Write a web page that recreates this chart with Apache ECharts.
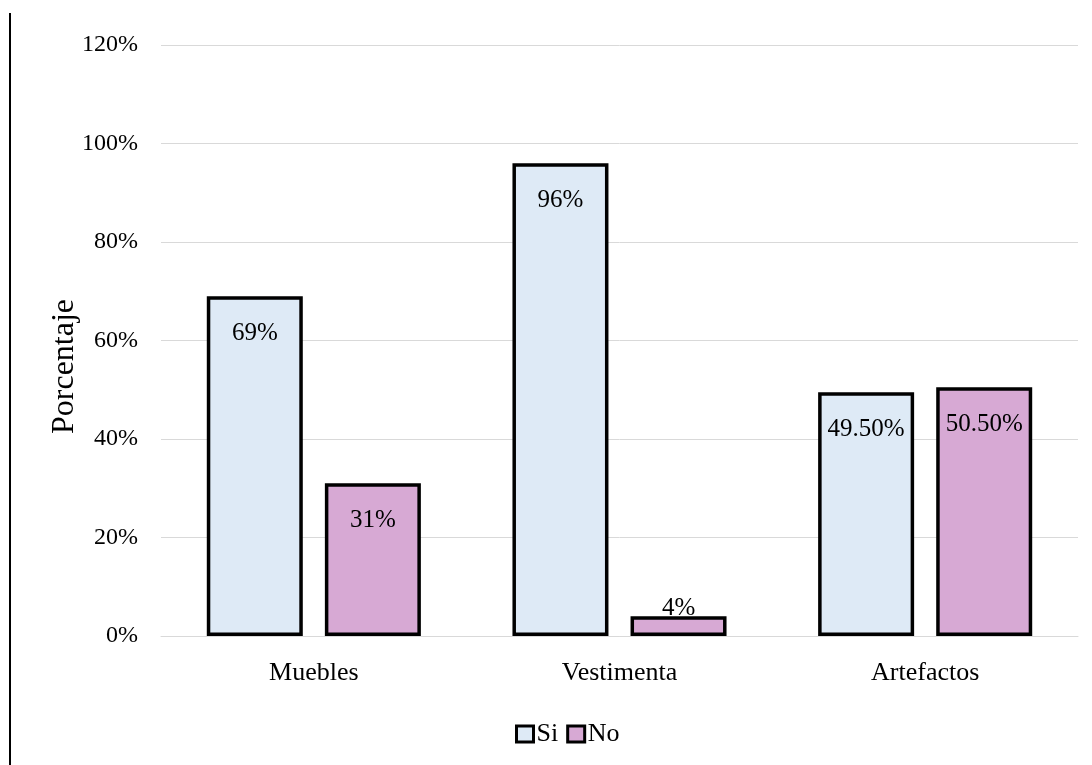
<!DOCTYPE html>
<html>
<head>
<meta charset="utf-8">
<script src="https://cdn.jsdelivr.net/npm/echarts@6/dist/echarts.min.js"></script>
<style>html,body{margin:0;padding:0;background:#fff}#c{width:1092px;height:765px}</style>
</head>
<body>
<div id="c"></div>
<script>
var categories = ['Muebles', 'Vestimenta', 'Artefactos'];
var siValues = [69, 96, 49.5];
var noValues = [31, 4, 50.5];
var siLabels = ['69%', '96%', '49.50%'];
var noLabels = ['31%', '4%', '50.50%'];
var yTicks = [0, 20, 40, 60, 80, 100, 120];

var FONT = '"Liberation Serif", "Times New Roman", serif';
var chart = echarts.init(document.getElementById('c'));

function mkData(vals, labels) {
  return vals.map(function (v, i) {
    var d = { value: v, labelText: labels[i] };
    if (v < 10) {
      d.label = { position: 'top', distance: -5 };
    }
    return d;
  });
}

chart.setOption({
  animation: false,
  backgroundColor: '#fff',
  textStyle: { fontFamily: FONT, color: '#000' },
  grid: { left: 161, right: 14, top: 45, bottom: 129 },
  legend: {
    left: 510, top: 716,
    itemWidth: 17, itemHeight: 16, itemGap: 8,
    icon: 'rect',
    itemStyle: { borderColor: '#000', borderWidth: 3 },
    textStyle: { fontFamily: FONT, fontSize: 26, color: '#000', padding: [0, 0, 0, -2] },
    data: ['Si', 'No']
  },
  xAxis: {
    type: 'category',
    data: categories,
    axisLine: { show: true, lineStyle: { color: '#d9d9d9', width: 1 } },
    axisTick: { show: false },
    axisLabel: { fontFamily: FONT, fontSize: 26, color: '#000', margin: 24 }
  },
  yAxis: {
    type: 'value',
    min: 0, max: 120, interval: 20,
    name: 'Porcentaje',
    nameLocation: 'middle',
    nameGap: 80,
    nameMoveOverlap: false,
    nameTextStyle: { fontFamily: FONT, fontSize: 32, color: '#000', padding: [0, 52, 0, 0] },
    axisLine: { show: false },
    axisTick: { show: false },
    splitLine: { lineStyle: { color: '#d9d9d9', width: 1 } },
    axisLabel: {
      fontFamily: FONT, fontSize: 24, color: '#000', margin: 23,
      formatter: function (v) { return yTicks.indexOf(v) >= 0 ? v + '%' : ''; }
    }
  },
  series: [
    {
      name: 'Si', type: 'bar',
      data: mkData(siValues, siLabels),
      barWidth: 96, barGap: '23%',
      itemStyle: { color: '#DEEAF6', borderColor: '#000', borderWidth: 3.5 },
      label: {
        show: true, position: 'insideTop', distance: 25,
        fontFamily: FONT, fontSize: 25, color: '#000',
        formatter: function (p) { return p.data.labelText; }
      }
    },
    {
      name: 'No', type: 'bar',
      data: mkData(noValues, noLabels),
      barWidth: 96, barGap: '23%',
      itemStyle: { color: '#D7A9D4', borderColor: '#000', borderWidth: 3.5 },
      label: {
        show: true, position: 'insideTop', distance: 25,
        fontFamily: FONT, fontSize: 25, color: '#000',
        formatter: function (p) { return p.data.labelText; }
      }
    }
  ],
  graphic: [
    { type: 'line', shape: { x1: 10, y1: 13, x2: 10, y2: 765 }, style: { stroke: '#000', lineWidth: 2 } }
  ]
});
</script>
</body>
</html>
